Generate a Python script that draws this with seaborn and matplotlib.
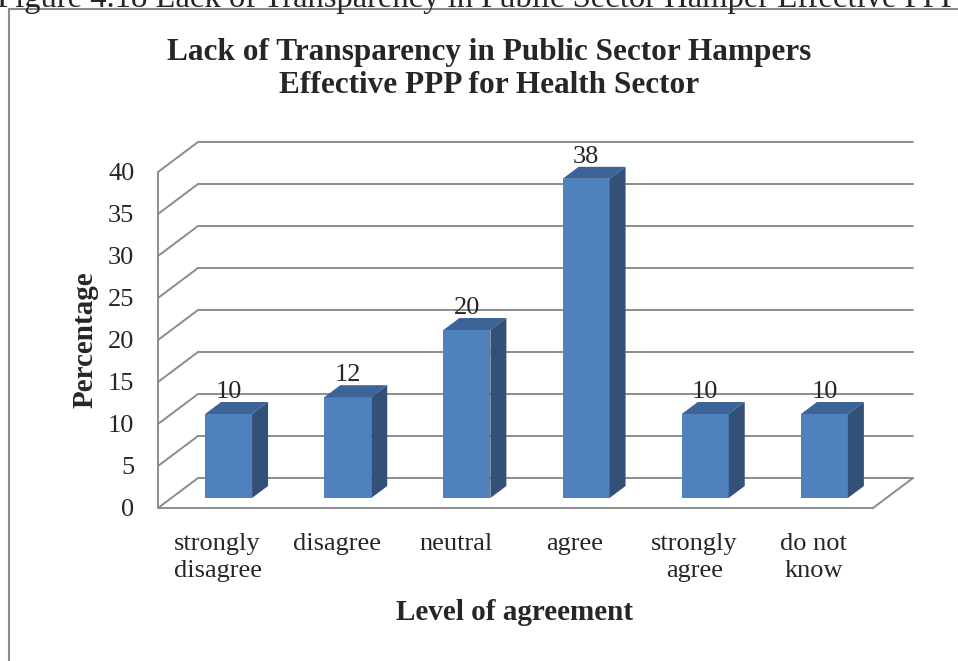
import numpy as np
import pandas as pd
import seaborn as sns
import matplotlib.pyplot as plt
from matplotlib.patches import Rectangle

# --------------------------- DATA ---------------------------
categories = ['strongly\ndisagree', 'disagree', 'neutral', 'agree', 'strongly\nagree', 'do not\nknow']
percentages = [10, 12, 20, 38, 10, 10]
y_ticks = [0, 5, 10, 15, 20, 25, 30, 35, 40]

title = 'Lack of Transparency in Public Sector Hampers\nEffective PPP for Health Sector'
caption = 'Figure 4.18 Lack of Transparency in Public Sector Hamper Effective PPP'

df = pd.DataFrame({'level': categories, 'pct': percentages})

# --------------------------- STYLE ---------------------------
sns.set_style('white')
plt.rcParams['font.family'] = ['Liberation Serif', 'DejaVu Serif']

front_col = '#4F81BD'
top_col = '#3C6496'
side_col = '#325078'
grid_col = '#8c8c8c'

W, H = 958, 661
fig = plt.figure(figsize=(W / 100, H / 100), dpi=100)
ax = fig.add_axes([158 / W, 1 - 508 / H, 715 / W, 336 / H])
ax.patch.set_alpha(0)

sns.barplot(data=df, x='level', y='pct', color=front_col, saturation=1,
            width=0.394, errorbar=None, linewidth=0, ax=ax, zorder=3)

ax.set_xlim(-0.5, len(categories) - 0.5)
ax.set_ylim(0, 40)

# 3D offsets (data units): wall depth and bar depth
px_x = 715 / len(categories)
px_y = 336 / 40
wall_dx, wall_dy = 40 / px_x, 30 / px_y
bar_sx, bar_sy = 11 / px_x, 10 / px_y
bar_dx, bar_dy = 16 / px_x, 12 / px_y

# back wall + left wall grid
x0, x1 = ax.get_xlim()
for t in y_ticks:
    ax.plot([x0 + wall_dx, x1 + wall_dx], [t + wall_dy, t + wall_dy], color=grid_col, lw=1.4,
            clip_on=False, zorder=1)
    ax.plot([x0, x0 + wall_dx], [t, t + wall_dy], color=grid_col, lw=1.4, clip_on=False, zorder=1)
# floor right edge
ax.plot([x1, x1 + wall_dx], [0, wall_dy], color=grid_col, lw=1.4, clip_on=False, zorder=1)

# shift bars into the depth and add top/side faces
for p in ax.patches:
    p.set_x(p.get_x() + bar_sx)
    p.set_y(bar_sy)
    bx, by, bw, bh = p.get_x(), p.get_y(), p.get_width(), p.get_height()
    ax.fill([bx, bx + bw, bx + bw + bar_dx, bx + bar_dx],
            [by + bh, by + bh, by + bh + bar_dy, by + bh + bar_dy],
            color=top_col, lw=0, zorder=3, clip_on=False)
    ax.fill([bx + bw, bx + bw + bar_dx, bx + bw + bar_dx, bx + bw],
            [by, by + bar_dy, by + bh + bar_dy, by + bh],
            color=side_col, lw=0, zorder=3, clip_on=False)

ax.bar_label(ax.containers[0], labels=[str(v) for v in percentages], padding=8, fontsize=19)

# axes, ticks
sns.despine(ax=ax, top=True, right=True)
for s in ['left', 'bottom']:
    ax.spines[s].set_color(grid_col)
    ax.spines[s].set_linewidth(1.4)
    ax.spines[s].set_zorder(2)

ax.set_yticks(y_ticks)
ax.set_yticklabels([str(t) for t in y_ticks], fontsize=19)
ax.set_xticks(np.arange(-0.5, len(categories), 1.0))
ax.set_xticklabels([])
ax.set_xticks(np.arange(len(categories)), minor=True)
ax.set_xticklabels(categories, minor=True, fontsize=19, linespacing=1.3)
ax.tick_params(axis='both', which='major', direction='out', length=7, width=1.4, color=grid_col)
ax.tick_params(axis='y', pad=10)
ax.tick_params(axis='x', which='minor', length=0, pad=18)
ax.set_xlabel('')
ax.set_ylabel('')

# titles and labels
fig.text(489.5 / W, 1 - 69 / H, title, ha='center', va='center', fontsize=22.5,
         fontweight='bold', linespacing=1.2)
fig.text(85 / W, 1 - 340 / H, 'Percentage', ha='center', va='center', rotation=90,
         fontsize=21, fontweight='bold')
fig.text(515 / W, 1 - 613 / H, 'Level of agreement', ha='center', va='center',
         fontsize=21, fontweight='bold')

# chart frame and cut-off caption above it
fig.patches.append(Rectangle((9 / W, -0.05), 1.0, 1.05 - 9 / H, transform=fig.transFigure,
                             fill=False, edgecolor=grid_col, lw=1.5))
fig.text(-3 / W, 1 - 7 / H, caption, ha='left', va='baseline', fontsize=23.5)

fig.savefig('out.png', dpi=100)
